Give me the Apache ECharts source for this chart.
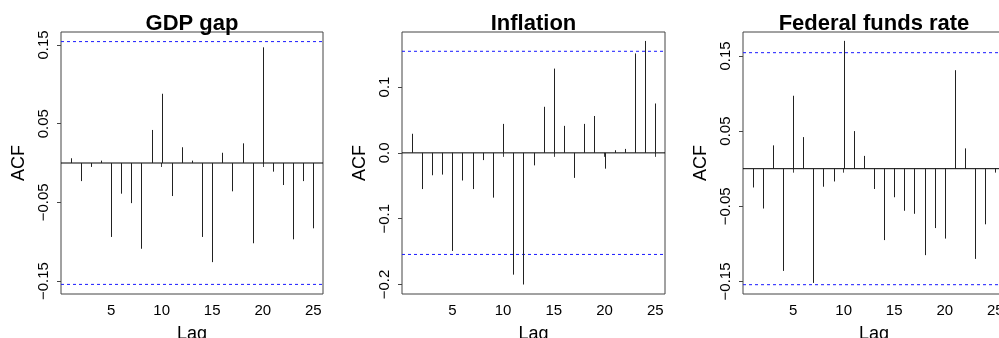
<!DOCTYPE html>
<html>
<head>
<meta charset="utf-8">
<script src="https://cdn.jsdelivr.net/npm/echarts@6/dist/echarts.min.js"></script>
<style>
html,body{margin:0;padding:0;background:#fff;overflow:hidden;}
#chart{width:999px;height:338px;}
</style>
</head>
<body>
<div id="chart"></div>
<script>
// ---- data ----
var lags = [1,2,3,4,5,6,7,8,9,10,11,12,13,14,15,16,17,18,19,20,21,22,23,24,25];
var titles = ["GDP gap", "Inflation", "Federal funds rate"];
var gdpAcf = [0.006,-0.023,-0.005,0.003,-0.094,-0.039,-0.051,-0.109,0.042,0.088,-0.042,0.020,0.003,-0.094,-0.126,0.013,-0.036,0.025,-0.102,0.147,-0.011,-0.028,-0.097,-0.023,-0.083];
var inflAcf = [0.029,-0.055,-0.034,-0.033,-0.149,-0.042,-0.055,-0.011,-0.068,0.044,-0.185,-0.200,-0.019,0.070,0.128,0.041,-0.038,0.044,0.056,-0.024,0.004,0.006,0.151,0.170,0.075];
var ffrAcf = [-0.025,-0.053,0.031,-0.136,0.097,0.042,-0.152,-0.024,-0.017,0.170,0.050,0.017,-0.027,-0.095,-0.038,-0.056,-0.060,-0.115,-0.079,-0.093,0.131,0.027,-0.120,-0.074,-0.004];
var ciBound = 0.1543;
var xTicks = [5,10,15,20,25];
var yTicksA = [-0.15,-0.05,0.05,0.15];
var yTicksB = [-0.2,-0.1,0.0,0.1];
var yTicksC = [-0.15,-0.05,0.05,0.15];
var yRanges = [[-0.1665,0.1665],[-0.2144,0.1836],[-0.1667,0.1818]];
var xRange = [0.04,25.96];

var series = [gdpAcf, inflAcf, ffrAcf];
var yTicks = [yTicksA, yTicksB, yTicksC];
var grids = [
  {left:61, top:32, width:262, height:262},
  {left:402, top:32, width:263, height:262},
  {left:743, top:32, width:262, height:262}
];
var FONT = "'Liberation Sans', Arial, Helvetica, sans-serif";

function fmt(v){
  var s;
  if (Math.abs(v) < 1e-9) s = "0.0";
  else s = Math.abs(v).toString();
  return (v < -1e-9 ? "\u2212" : "") + s;
}

function hline(i, yv, color, dash){
  return {
    type:'line', xAxisIndex:i, yAxisIndex:i, silent:true, symbol:'none', z:1,
    data:[[xRange[0], yv],[xRange[1], yv]],
    lineStyle:{color:color, type:dash, width:1},
    itemStyle:{color:color},
    emphasis:{disabled:true}
  };
}

var option = {
  animation:false,
  backgroundColor:'#fff',
  title: [], grid: [], xAxis: [], yAxis: [], series: []
};

for (var i=0;i<3;i++){
  var g = grids[i];
  option.grid.push({left:g.left, top:g.top, width:g.width, height:g.height,
    show:true, borderColor:'#444', borderWidth:1, backgroundColor:'transparent',
    containLabel:false, outerBoundsMode:'none'});
  option.title.push({text:titles[i], left:g.left + g.width/2, top:13, padding:0, textAlign:'center',
    textStyle:{fontFamily:FONT, fontWeight:'bold', fontSize:22, color:'#000'}});
  option.xAxis.push({type:'value', gridIndex:i, min:xRange[0], max:xRange[1],
    name:'Lag', nameLocation:'middle', nameGap:31,
    nameTextStyle:{fontFamily:FONT, fontSize:18, color:'#000'},
    axisLine:{show:false}, splitLine:{show:false},
    axisTick:{show:true, length:4, inside:false, customValues:xTicks, lineStyle:{color:'#444'}},
    axisLabel:{show:true, customValues:xTicks, margin:9, fontFamily:FONT, fontSize:15, color:'#000'}
  });
  option.yAxis.push({type:'value', gridIndex:i, min:yRanges[i][0], max:yRanges[i][1],
    name:'ACF', nameLocation:'middle', nameGap:33, nameRotate:90,
    nameTextStyle:{fontFamily:FONT, fontSize:18, color:'#000'},
    axisLine:{show:false}, splitLine:{show:false},
    axisTick:{show:true, length:4, inside:false, customValues:yTicks[i], lineStyle:{color:'#444'}},
    axisLabel:{show:true, customValues:yTicks[i], rotate:90, margin:10, fontFamily:FONT, fontSize:15, color:'#000',
      formatter:function(v){ return fmt(Math.round(v*100)/100); }}
  });
  option.series.push(hline(i, 0, '#000', 'solid'));
  option.series.push(hline(i, ciBound, '#1a1aff', [3,3]));
  option.series.push(hline(i, -ciBound, '#1a1aff', [3,3]));
  var d = lags.map(function(l,k){ return [l, series[i][k]]; });
  option.series.push({
    type:'custom', xAxisIndex:i, yAxisIndex:i, data:d, clip:false, z:3, silent:true,
    renderItem:function(params, api){
      var p0 = api.coord([api.value(0), 0]);
      var p1 = api.coord([api.value(0), api.value(1)]);
      var x = Math.round(p0[0]) + 0.5;
      return {type:'line', shape:{x1:x, y1:p0[1], x2:x, y2:p1[1]},
        style:{stroke:'#222', lineWidth:1}};
    }
  });
}

var chart = echarts.init(document.getElementById('chart'), null, {renderer:'canvas'});
chart.setOption(option);
</script>
</body>
</html>
